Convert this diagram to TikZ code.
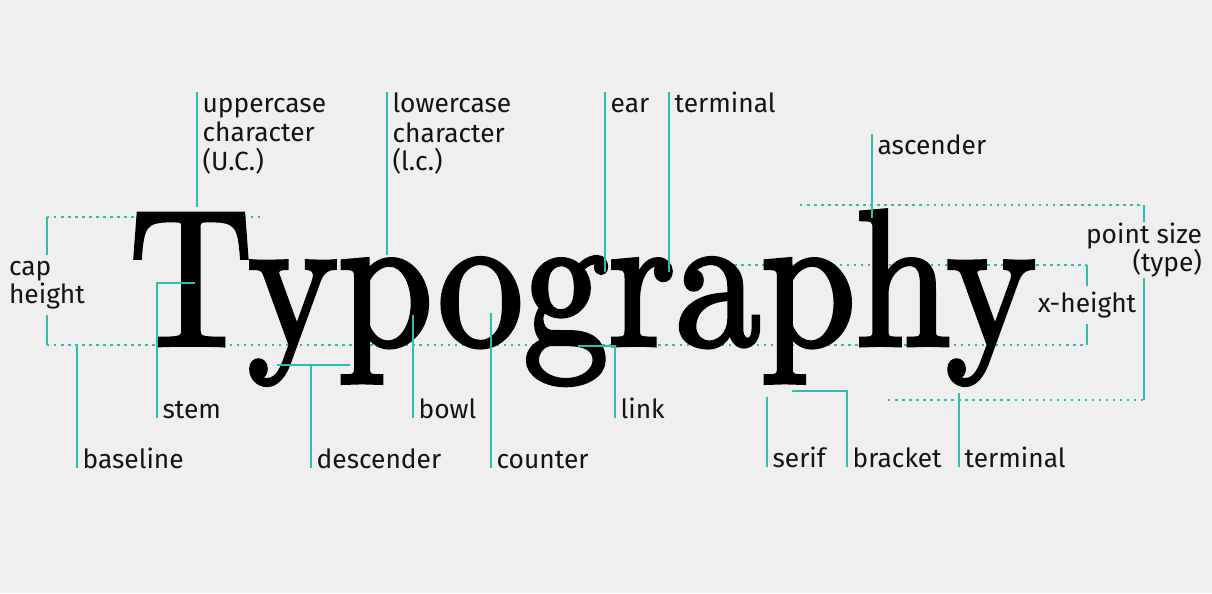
\documentclass[tikz,border=0pt]{standalone}
\usepackage{graphicx}
\usepackage{fontspec}
\newfontfamily\labelfont{Fira Sans}
\newfontfamily\wordfont{lmroman10-regular.otf}[FakeBold=2.5]
\usetikzlibrary{positioning}
\definecolor{paper}{RGB}{239,239,239}
\definecolor{guide}{RGB}{43,191,174}
\definecolor{ink}{RGB}{20,20,20}

\begin{document}
\begin{tikzpicture}[x=0.02cm, y=-0.02cm,
    lbl/.style={font=\labelfont\fontsize{15}{16}\selectfont, text=ink, inner xsep=3pt, inner ysep=0pt},
    lead/.style={draw=guide, line width=1.4pt},
    dots/.style={draw=guide, line width=1.4pt, dash pattern=on 1.4pt off 2.6pt}]
    \fill[paper] (0,0) rectangle (1212,593);
    \useasboundingbox (0,0) rectangle (1212,593);

    % guide lines behind the word
    \coordinate (cap-l) at (47,217);   \coordinate (cap-r) at (262,217);
    \coordinate (base-l) at (47,345);  \coordinate (base-r) at (1087,345);
    \coordinate (xh-l) at (713,265);   \coordinate (xh-r) at (1087,265);
    \coordinate (asc-l) at (800,205);  \coordinate (asc-r) at (1144,205);
    \coordinate (desc-l) at (888,400); \coordinate (desc-r) at (1144,400);
    \draw[dots] (cap-l) -- (cap-r);
    \draw[dots] (base-l) -- (base-r);
    \draw[dots] (xh-l) -- (xh-r);
    \draw[dots] (asc-l) -- (asc-r);
    \draw[dots] (desc-l) -- (desc-r);

    \node[anchor=base west, inner sep=0pt] (word) at (129,345)
        {\scalebox{0.9}[1.02]{\wordfont\fontsize{108}{110}\selectfont Typography}};

    % measures at the sides
    \node[lbl, align=left, inner xsep=0pt, inner ysep=3.4pt] (capht) at (47,285) {cap\\height};
    \draw[lead] (cap-l) -- (capht.north);
    \draw[lead] (capht.south) -- (base-l);
    \node[lbl, inner xsep=0pt, inner ysep=3pt] (xht) at (1087,305) {x-height};
    \draw[lead] (xh-r) -- (xht.north);
    \draw[lead] (xht.south) -- (base-r);
    \node[lbl, align=right, inner xsep=0pt, inner ysep=0.5pt] (ptsize) at (1144,250) {point size\\(type)};
    \draw[lead] (asc-r) -- (ptsize.north);
    \draw[lead] (ptsize.south) -- (desc-r);

    % labels above
    \node[lbl, anchor=north west, align=left] (uc) at (197,92) {\strut uppercase\\character\\(U.C.)};
    \node[lbl, anchor=north west, align=left] (lc) at (387,92) {\strut lowercase\\character\\(l.c.)};
    \node[lbl, anchor=north west] (ear) at (605,92) {\strut ear};
    \node[lbl, anchor=north west] (term-a) at (669,92) {\strut terminal};
    \node[lbl, anchor=north west] (asc) at (872,134) {\strut ascender};
    \coordinate (uc-pt) at (197,207);
    \coordinate (lc-pt) at (387,255);
    \coordinate (ear-pt) at (605,272);
    \coordinate (term-a-pt) at (669,272);
    \coordinate (asc-pt) at (872,218);
    \draw[lead] (uc.north west) -- (uc-pt);
    \draw[lead] (lc.north west) -- (lc-pt);
    \draw[lead] (ear.north west) -- (ear-pt);
    \draw[lead] (term-a.north west) -- (term-a-pt);
    \draw[lead] (asc.north west) -- (asc-pt);

    % labels below
    \node[lbl, anchor=base west] (baseline) at (77,468) {baseline};
    \node[lbl, anchor=base west] (stem) at (157,418) {stem};
    \node[lbl, anchor=base west] (descender) at (311,468) {descender};
    \node[lbl, anchor=base west] (bowl) at (413,418) {bowl};
    \node[lbl, anchor=base west] (counter) at (491,468) {counter};
    \node[lbl, anchor=base west] (link) at (615,418) {link};
    \node[lbl, anchor=base west] (serif) at (767,467) {serif};
    \node[lbl, anchor=base west] (bracket) at (847,467) {bracket};
    \node[lbl, anchor=base west] (term-b) at (959,467) {terminal};
    \coordinate (base-pt) at (77,345);
    \coordinate (stem-pt) at (195,283);
    \coordinate (desc-a) at (277,365);
    \coordinate (desc-b) at (350,365);
    \coordinate (bowl-pt) at (413,315);
    \coordinate (counter-pt) at (491,313);
    \coordinate (link-pt) at (578,346);
    \coordinate (serif-pt) at (767,397);
    \coordinate (bracket-pt) at (792,391);
    \coordinate (term-b-pt) at (959,393);
    \draw[lead] (base-pt) -- (baseline.base west);
    \draw[lead] (stem-pt) -| (stem.base west);
    \draw[lead] (desc-a) -- (desc-b);
    \draw[lead] (descender.base west |- desc-a) -- (descender.base west);
    \draw[lead] (bowl-pt) -- (bowl.base west);
    \draw[lead] (counter-pt) -- (counter.base west);
    \draw[lead] (link-pt) -| (link.base west);
    \draw[lead] (serif-pt) -- (serif.base west);
    \draw[lead] (bracket-pt) -| (bracket.base west);
    \draw[lead] (term-b-pt) -- (term-b.base west);
\end{tikzpicture}
\end{document}
